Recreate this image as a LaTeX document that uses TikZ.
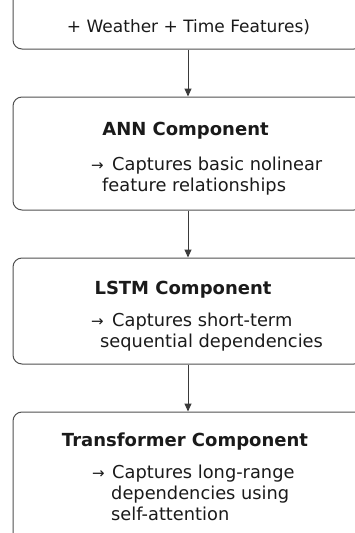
\documentclass[tikz,border=0pt]{standalone}
\usepackage{fontspec}
\setmainfont{DejaVu Sans}
\newfontfamily\arrowfont{DejaVu Sans}
\usetikzlibrary{arrows.meta}
\definecolor{boxgray}{HTML}{505050}
\definecolor{linegray}{HTML}{3A3A3A}
\definecolor{textcol}{HTML}{1A1A1A}
\begin{document}
\begin{tikzpicture}[x=1pt,y=1pt,
  box/.style={draw=boxgray, line width=1pt, rounded corners=9pt, minimum width=350pt, inner sep=0pt},
  ttl/.style={font=\fontsize{18}{21}\selectfont\bfseries, text=textcol, anchor=base, inner sep=0pt},
  lbl/.style={font=\fontsize{17}{21}\selectfont, text=textcol, anchor=base, inner sep=0pt},
  txt/.style={font=\fontsize{17.8}{21}\selectfont, text=textcol, anchor=base west, inner sep=0pt},
  arr/.style={font=\arrowfont\fontsize{15}{16}\selectfont, text=textcol, anchor=base west, inner sep=0pt},
  conn/.style={draw=linegray, line width=1pt, -{Triangle[length=8pt,width=7pt]}}]
\useasboundingbox (0,0) rectangle (355,-533);
\clip (0,0) rectangle (355,-533);
% boxes
\node[box, minimum height=79pt] (input) at (188,-9.5) {};
\node[box, minimum height=113pt] (ann) at (188,-153.5) {};
\node[box, minimum height=106pt] (lstm) at (188,-311) {};
\node[box, minimum height=148pt] (trans) at (188,-486) {};
% connectors
\draw[conn] (input.south) -- (ann.north);
\draw[conn] (ann.south) -- (lstm.north);
\draw[conn] (lstm.south) -- (trans.north);
% input text
\node[lbl] (inputtxt) at (188.5,-32.5) {+ Weather + Time Features)};
% ANN
\node[ttl] (anntitle) at (185.5,-135.5) {ANN Component};
\node[arr] (annarrow) at (91,-170.5) {→};
\node[txt] (annl1) at (112,-170.5) {Captures basic nolinear};
\node[txt] (annl2) at (102,-191.5) {feature relationships};
% LSTM
\node[ttl] (lstmtitle) at (183,-294.5) {LSTM Component};
\node[arr] (lstmarrow) at (91,-326.5) {→};
\node[txt] (lstml1) at (112,-326.5) {Captures short-term};
\node[txt] (lstml2) at (100,-347.5) {sequential dependencies};
% Transformer
\node[ttl] (transtitle) at (185,-446.5) {Transformer Component};
\node[arr] (transarrow) at (92,-478.5) {→};
\node[txt] (transl1) at (112,-478.5) {Captures long-range};
\node[txt] (transl2) at (111,-499.5) {dependencies using};
\node[txt] (transl3) at (111,-520.5) {self-attention};
\end{tikzpicture}
\end{document}
